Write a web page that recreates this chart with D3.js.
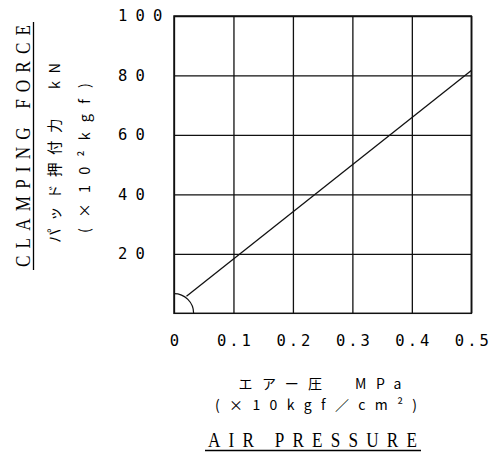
<!DOCTYPE html>
<html><head><meta charset="utf-8">
<script src="https://cdn.jsdelivr.net/npm/d3@7"></script>
<style>body{margin:0;background:#fff}</style>
</head><body><svg id="c" width="491" height="454"></svg>
<script>
// ---- data ----
const xTicks = [0, 0.1, 0.2, 0.3, 0.4, 0.5];
const xTickLabels = ["0", "0.1", "0.2", "0.3", "0.4", "0.5"];
const yTicks = [20, 40, 60, 80, 100];
const yTickLabels = ["20", "40", "60", "80", "100"];
const pressure = [0.021, 0.5];      // MPa
const force = [5.7, 81.7];          // kN
const originArcRadius = 0.033;      // MPa
const xTitleJa = "エアー圧　MPa";
const xTitleUnit = "(×10kgf／cm²)";
const xTitleEn = "AIR PRESSURE";
const yTitleJa = "パッド押付力　kN";
const yTitleUnit = "(×10²kgf)";
const yTitleEn = "CLAMPING FORCE";

// ---- layout ----
const svg = d3.select("#c");
const L = 174, R = 471.3, T = 16, B = 313.3;
const x = d3.scaleLinear().domain([0, 0.5]).range([L, R]);
const y = d3.scaleLinear().domain([0, 100]).range([B, T]);
const ink = "#000";
const mono = "'DejaVu Sans Mono', monospace";
const cjk = "'Noto Sans CJK JP', sans-serif";
const serif = "'Liberation Serif', serif";
const sx = 0.78; // horizontal condensation for serif titles

// grid via axes
const gx = svg.append("g").attr("transform", `translate(0,${B})`)
  .call(d3.axisBottom(x).tickValues(xTicks).tickSize(-(B - T)).tickPadding(20)
    .tickFormat((d, i) => xTickLabels[i]));
gx.select(".domain").remove();
gx.selectAll("line").attr("stroke", "#111").attr("stroke-width", 1.3);
gx.selectAll("text").attr("font-family", mono).attr("font-size", 15.5)
  .attr("fill", ink).attr("letter-spacing", 3).attr("dx", 1.5).attr("dy", "0.85em");

const gy = svg.append("g").attr("transform", `translate(${L},0)`)
  .call(d3.axisLeft(y).tickValues(yTicks).tickSize(-(R - L))
    .tickFormat((d, i) => yTickLabels[i]));
gy.select(".domain").remove();
gy.selectAll("line").attr("stroke", "#111").attr("stroke-width", 1.3);
gy.selectAll("text").attr("font-family", mono).attr("font-size", 15.5)
  .attr("fill", ink).attr("letter-spacing", 8.2)
  .attr("text-anchor", "start").attr("x", 118 - L).attr("dy", "0.3em");

// frame
svg.append("rect").attr("x", x(0)).attr("y", y(100))
  .attr("width", x(0.5) - x(0)).attr("height", y(0) - y(100))
  .attr("fill", "none").attr("stroke", "#111").attr("stroke-width", 1.5);

// origin quarter arc
const rpx = x(originArcRadius) - x(0);
svg.append("path")
  .attr("transform", `translate(${x(0)},${y(0)})`)
  .attr("d", d3.arc().innerRadius(rpx).outerRadius(rpx).startAngle(0).endAngle(Math.PI / 2)())
  .attr("fill", "none").attr("stroke", "#111").attr("stroke-width", 1.2);

// line
const pts = pressure.map((p, i) => [p, force[i]]);
svg.append("path").datum(pts)
  .attr("d", d3.line().x(d => x(d[0])).y(d => y(d[1])))
  .attr("fill", "none").attr("stroke", "#111").attr("stroke-width", 1.3);

// x titles
svg.append("text").attr("x", 320).attr("y", 388.5).attr("text-anchor", "middle")
  .attr("font-family", cjk).attr("font-size", 14).attr("fill", ink)
  .attr("textLength", 163).attr("lengthAdjust", "spacing").text(xTitleJa);
svg.append("text").attr("x", 316).attr("y", 409.5).attr("text-anchor", "middle")
  .attr("font-family", cjk).attr("font-size", 14).attr("fill", ink)
  .attr("textLength", 202).attr("lengthAdjust", "spacing").text(xTitleUnit);
svg.append("text").attr("transform", `translate(312.5,447) scale(${sx},1)`)
  .attr("text-anchor", "middle")
  .attr("font-family", serif).attr("font-size", 22).attr("fill", ink)
  .attr("textLength", 209 / sx).attr("lengthAdjust", "spacing").text(xTitleEn);
svg.append("line").attr("x1", 205).attr("x2", 421).attr("y1", 450.5).attr("y2", 450.5)
  .attr("stroke", ink).attr("stroke-width", 1.3);

// y titles
svg.append("text").attr("transform", `translate(29.5,146) rotate(-90) scale(${sx},1)`)
  .attr("text-anchor", "middle").attr("font-family", serif).attr("font-size", 22)
  .attr("fill", ink).attr("textLength", 242 / sx).attr("lengthAdjust", "spacing").text(yTitleEn);
svg.append("line").attr("x1", 33.5).attr("x2", 33.5).attr("y1", 22).attr("y2", 270)
  .attr("stroke", ink).attr("stroke-width", 1.3);
svg.append("text").attr("transform", "translate(60,153) rotate(-90)")
  .attr("text-anchor", "middle").attr("font-family", cjk).attr("font-size", 14.5)
  .attr("fill", ink).attr("textLength", 180).attr("lengthAdjust", "spacing").text(yTitleJa);
svg.append("text").attr("transform", "translate(90,158) rotate(-90)")
  .attr("text-anchor", "middle").attr("font-family", cjk).attr("font-size", 14.5)
  .attr("fill", ink).attr("textLength", 150).attr("lengthAdjust", "spacing").text(yTitleUnit);
</script></body></html>
